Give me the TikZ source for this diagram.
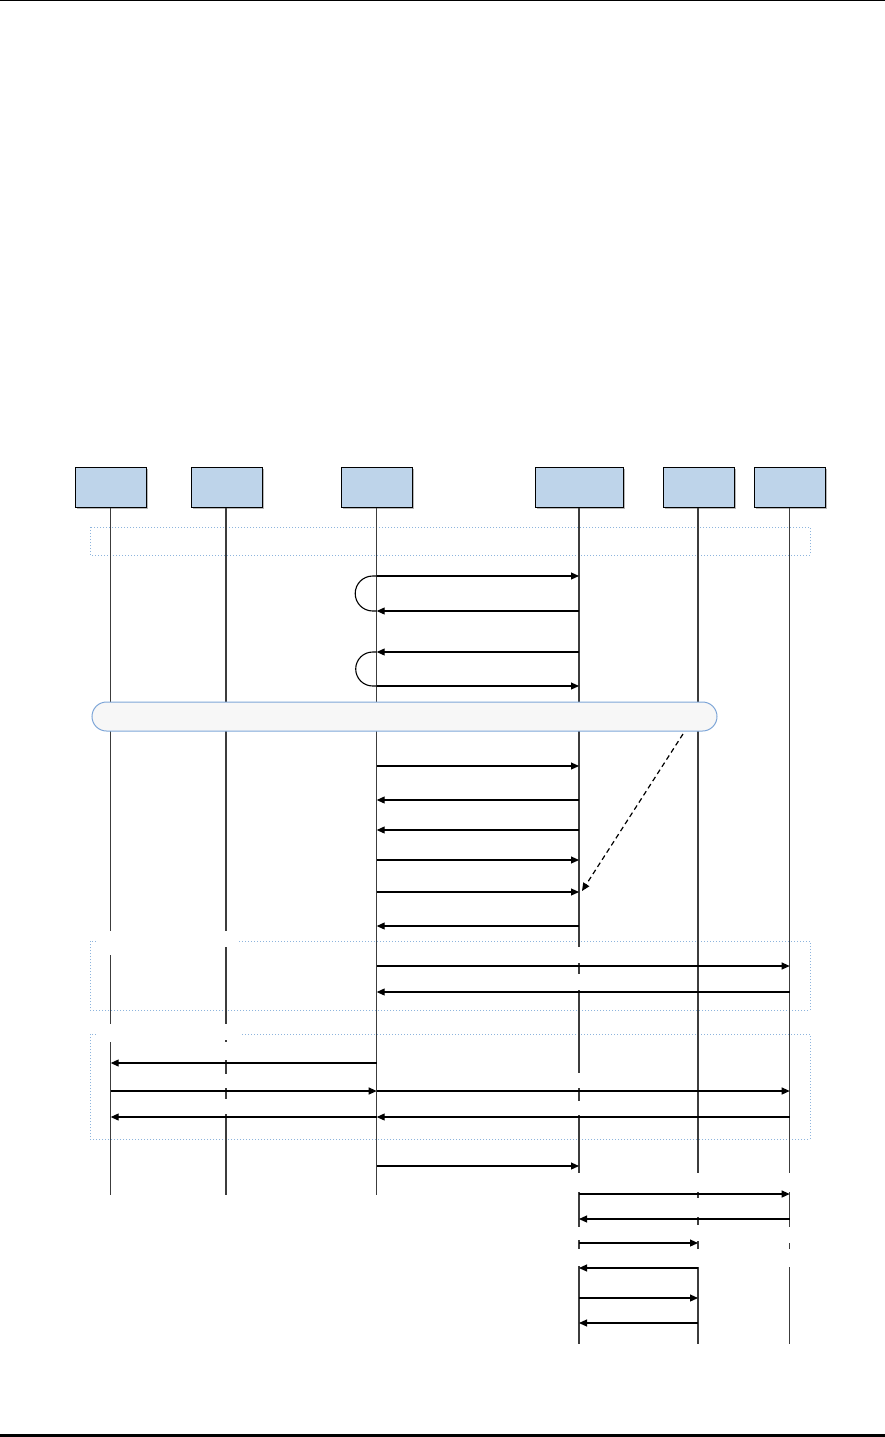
\documentclass[tikz,border=0pt]{standalone}
\usetikzlibrary{arrows.meta,calc,shadows}
\definecolor{hdrfill}{HTML}{BED4EA}
\definecolor{barfill}{HTML}{F7F7F7}
\definecolor{barline}{HTML}{7EA6D8}
\definecolor{frameblue}{HTML}{8DB4DD}
\definecolor{lifegray}{HTML}{3C3C3C}
\tikzset{
  hdr/.style={draw=black, line width=1pt, fill=hdrfill, minimum height=40pt, inner sep=0pt,
    drop shadow={shadow xshift=2pt, shadow yshift=-2pt, fill=black!28, opacity=1}},
  life/.style={draw=lifegray, line width=1.5pt},
  msg/.style={draw=black, line width=1.1pt, -{Triangle[length=8pt,width=7pt]}},
  loopline/.style={draw=black, line width=1.1pt},
  frame/.style={draw=frameblue, line width=1pt, dotted},
  banner/.style={draw=barline, line width=1pt, fill=barfill, rounded corners=14.5pt,
    minimum width=625pt, minimum height=29pt, inner sep=0pt},
  note/.style={draw=black, line width=1.2pt, dash pattern=on 5pt off 3.5pt, -{Triangle[length=8pt,width=7pt]}}
}
\newcommand\lseg[3]{\draw[life] ($(#1)+(0,#2)$) -- ($(#1)+(0,#3)$);}
\newcommand\msgline[3]{\draw[msg] ($(#2)+(0,#1)$) -- ($(#3)+(0,#1)$);}
\begin{document}
\begin{tikzpicture}[x=1pt,y=-1pt]
\useasboundingbox (0,0) rectangle (885,1437);
% page rules
\draw[line width=1.5pt] (0,0.75) -- (885,0.75);
\draw[line width=3pt] (0,1435.5) -- (885,1435.5);
% lifeline positions
\coordinate (L1) at (110.7,0);
\coordinate (L2) at (225.8,0);
\coordinate (L3) at (376.7,0);
\coordinate (L4) at (579,0);
\coordinate (L5) at (698,0);
\coordinate (L6) at (789.7,0);
% frames
\draw[frame] (90,527) rectangle (810,555);
\draw[frame] (239,941) -- (810,941) -- (810,1010) -- (90,1010) -- (90,941) -- (96,941);
\draw[frame] (242,1034) -- (810,1034) -- (810,1139) -- (90,1139) -- (90,1034) -- (96,1034);
% header boxes
\node[hdr, minimum width=71pt] (h1) at (110.5,487) {};
\node[hdr, minimum width=71pt] (h2) at (226.5,487) {};
\node[hdr, minimum width=71pt] (h3) at (376.5,487) {};
\node[hdr, minimum width=88pt] (h4) at (579,487) {};
\node[hdr, minimum width=71pt] (h5) at (698.5,487) {};
\node[hdr, minimum width=71pt] (h6) at (789.5,487) {};
% lifelines
\lseg{L1}{508}{931}\lseg{L1}{955}{1024}\lseg{L1}{1042}{1195}
\lseg{L2}{508}{931}\lseg{L2}{947}{1024}\lseg{L2}{1040}{1042}\lseg{L2}{1060}{1074}\lseg{L2}{1088}{1099}\lseg{L2}{1114}{1195}
\lseg{L3}{508}{1195}
\lseg{L4}{508}{947}\lseg{L4}{963}{974}\lseg{L4}{990}{1073}\lseg{L4}{1088}{1101}\lseg{L4}{1115}{1173}
\lseg{L4}{1192}{1227}\lseg{L4}{1240}{1249}\lseg{L4}{1266}{1344}
\lseg{L5}{508}{1173}\lseg{L5}{1192}{1198}\lseg{L5}{1217}{1225}\lseg{L5}{1241}{1249}\lseg{L5}{1267}{1344}
\lseg{L6}{508}{1173}\lseg{L6}{1192}{1227}\lseg{L6}{1243}{1249}\lseg{L6}{1267}{1344}
% self loops
\draw[loopline] ($(L3)+(0,576)$) -- ++(-4,0) arc[start angle=90,end angle=270,radius=17.5pt] -- ++(4,0);
\draw[loopline] ($(L3)+(0,652)$) -- ++(-4,0) arc[start angle=90,end angle=270,radius=17pt] -- ++(4,0);
% upper messages
\msgline{576}{L3}{L4}
\msgline{611}{L4}{L3}
\msgline{652}{L4}{L3}
\msgline{686}{L3}{L4}
% banner
\node[banner] (bn) at (404.5,716.5) {};
\msgline{766}{L3}{L4}
\msgline{800}{L4}{L3}
\msgline{830}{L4}{L3}
\msgline{860}{L3}{L4}
\msgline{892}{L3}{L4}
\msgline{926}{L4}{L3}
% dashed note connector
\coordinate (ds) at (683,734);
\coordinate (de) at (582,891);
\draw[note] (ds) -- (de);
% framed block 1
\msgline{966}{L3}{L6}
\msgline{992}{L6}{L3}
% framed block 2
\msgline{1063}{L3}{L1}
\msgline{1091}{L1}{L3}
\msgline{1091}{L3}{L6}
\msgline{1117}{L6}{L3}
\msgline{1117}{L3}{L1}
\msgline{1166}{L3}{L4}
% lower messages
\msgline{1194}{L4}{L6}
\msgline{1219}{L6}{L4}
\msgline{1243}{L4}{L5}
\msgline{1268}{L5}{L4}
\msgline{1298}{L4}{L5}
\msgline{1323}{L5}{L4}
\end{tikzpicture}
\end{document}
